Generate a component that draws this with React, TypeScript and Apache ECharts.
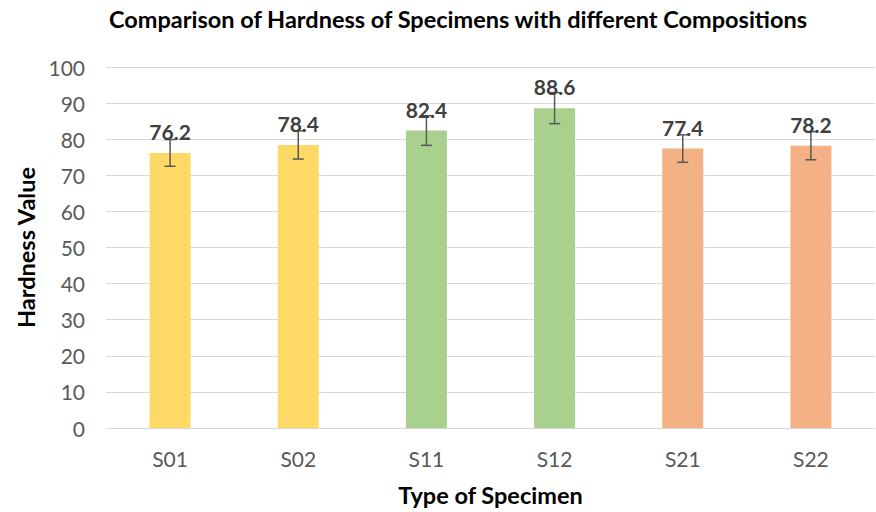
import React, { useEffect, useRef } from "react";
import * as echarts from "echarts";

const categories = ["S01", "S02", "S11", "S12", "S21", "S22"];
const hardness = [76.2, 78.4, 82.4, 88.6, 77.4, 78.2];
const errors = [3.7, 3.9, 4.1, 4.3, 3.8, 3.9];
const yTicks = { min: 0, max: 100, interval: 10 };

const barColors = ["#FFD966", "#FFD966", "#A9D18E", "#A9D18E", "#F4B183", "#F4B183"];
const FONT = "Lato, 'Open Sans', sans-serif";

export default function App() {
  const ref = useRef<HTMLDivElement>(null);
  useEffect(() => {
    document.body.style.margin = "0";
    const chart = echarts.init(ref.current!, null, { renderer: "svg" });
    chart.setOption({
      animation: false,
      backgroundColor: "#FFFFFF",
      textStyle: { fontFamily: FONT },
      graphic: [
        {
          type: "text",
          x: 458,
          y: 19,
          style: {
            text: "Comparison of Hardness of Specimens with different Compositions",
            fontFamily: FONT,
            fontSize: 23.5,
            fontWeight: "bold",
            fill: "#000000",
            align: "center",
            verticalAlign: "middle",
          },
        },
      ],
      grid: { left: 106, right: 1, top: 67, bottom: 82 },
      xAxis: {
        type: "category",
        data: categories,
        name: "Type of Specimen",
        nameLocation: "middle",
        nameGap: 55,
        nameTextStyle: { fontFamily: FONT, fontSize: 23.5, fontWeight: "bold", color: "#000000" },
        axisLine: { lineStyle: { color: "#D9D9D9", width: 1 } },
        axisTick: { show: false },
        axisLabel: { color: "#595959", fontSize: 21, margin: 20, fontFamily: FONT },
      },
      yAxis: {
        type: "value",
        min: yTicks.min,
        max: yTicks.max,
        interval: yTicks.interval,
        name: "Hardness Value",
        nameLocation: "middle",
        nameGap: 65,
        nameRotate: 90,
        nameTextStyle: { fontFamily: FONT, fontSize: 23.5, fontWeight: "bold", color: "#000000" },
        axisLine: { show: false },
        axisTick: { show: false },
        axisLabel: { color: "#595959", fontSize: 21, margin: 21, fontFamily: FONT },
        splitLine: { lineStyle: { color: "#D9D9D9", width: 1 } },
      },
      series: [
        {
          type: "bar",
          barWidth: 41,
          z: 2,
          data: hardness.map((v, i) => ({ value: v, itemStyle: { color: barColors[i] } })),
        },
        {
          type: "custom",
          z: 3,
          data: hardness.map((v, i) => [i, v, errors[i]]),
          renderItem: (params: any, api: any) => {
            const i = api.value(0);
            const v = api.value(1);
            const e = api.value(2);
            const top = api.coord([i, v + e]);
            const bot = api.coord([i, v - e]);
            const mid = api.coord([i, v]);
            const cap = 5.5;
            const ls = { stroke: "#595959", lineWidth: 1.5 };
            return {
              type: "group",
              children: [
                { type: "line", shape: { x1: top[0], y1: top[1], x2: bot[0], y2: bot[1] }, style: ls },
                { type: "line", shape: { x1: top[0] - cap, y1: top[1], x2: top[0] + cap, y2: top[1] }, style: ls },
                { type: "line", shape: { x1: bot[0] - cap, y1: bot[1], x2: bot[0] + cap, y2: bot[1] }, style: ls },
                {
                  type: "text",
                  x: mid[0],
                  y: mid[1] - 11,
                  style: {
                    text: v.toFixed(1),
                    fontFamily: FONT,
                    fontSize: 21,
                    fontWeight: "bold",
                    fill: "#404040",
                    align: "center",
                    verticalAlign: "bottom",
                  },
                },
              ],
            };
          },
        },
      ],
    });
    return () => chart.dispose();
  }, []);
  return <div ref={ref} style={{ width: 876, height: 512 }} />;
}
